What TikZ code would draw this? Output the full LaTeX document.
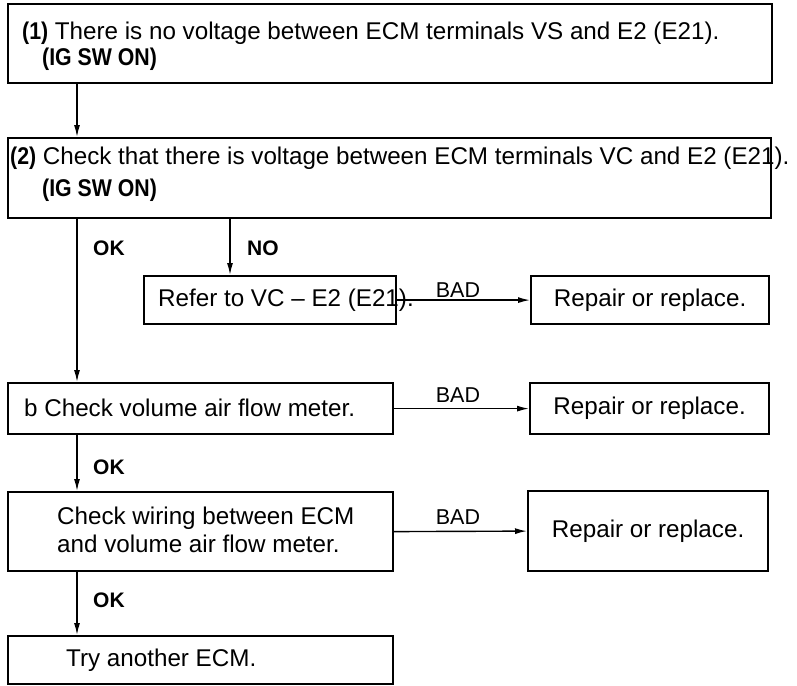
\documentclass[tikz,border=0pt]{standalone}
\usepackage{fontspec}
\setmainfont{Liberation Sans}
\newfontfamily\narrowb[FakeStretch=0.88]{Liberation Sans Bold}
\usetikzlibrary{arrows.meta}
\begin{document}
\begin{tikzpicture}[x=1pt,y=-1pt,
  box/.style={draw, line width=2.2pt, inner sep=0pt, anchor=north west},
  txt/.style={anchor=west, inner sep=0pt, font=\fontsize{24.2}{28}\selectfont},
  lab/.style={anchor=west, inner sep=0pt, font=\fontsize{21}{24}\selectfont\bfseries},
  badlab/.style={inner sep=0pt, font=\fontsize{21.5}{24}\selectfont},
  arr/.style={line width=1.4pt, -{Latex[length=12pt,width=6pt]}},
]
\useasboundingbox (0,0) rectangle (797,685);
% boxes
\node[box, minimum width=764pt, minimum height=79pt] (b1) at (7,3) {};
\node[box, minimum width=763pt, minimum height=80pt] (b2) at (7,137) {};
\node[box, minimum width=252pt, minimum height=48pt] (ref) at (143,275) {};
\node[box, minimum width=238pt, minimum height=48pt, font=\fontsize{24.2}{28}\selectfont] (r1) at (530,275) {Repair or replace.};
\node[box, minimum width=385pt, minimum height=51pt] (bb) at (7,382) {};
\node[box, minimum width=239pt, minimum height=51pt, font=\fontsize{24.2}{28}\selectfont] (r2) at (529,382) {Repair or replace.};
\node[box, minimum width=385pt, minimum height=79pt] (cw) at (7,491) {};
\node[box, minimum width=240pt, minimum height=80pt, font=\fontsize{24.2}{28}\selectfont] (r3) at (527,490) {Repair or replace.};
\node[box, minimum width=385pt, minimum height=48pt] (tr) at (7,635) {};
% texts
\node[txt] (t1a) at (22,33) {{\narrowb (1)} There is no voltage between ECM terminals VS and E2 (E21).};
\node[txt] (t1b) at (42,59) {\narrowb (IG SW ON)};
\node[txt] (t2a) at (10,158) {{\narrowb (2)} Check that there is voltage between ECM terminals VC and E2 (E21).};
\node[txt] (t2b) at (42,190) {\narrowb (IG SW ON)};
\node[txt] (tref) at (158,300) {Refer to VC -- E2 (E21).};
\node[txt] (tbb) at (24,408) {b Check volume air flow meter.};
\node[txt, align=left] (tcw) at (57,530) {Check wiring between ECM\\and volume air flow meter.};
\node[txt] (ttr) at (66,660) {Try another ECM.};
% connectors
\coordinate (cx) at (77,0);
\coordinate (nx) at (230,0);
\draw[arr] (b1.south -| cx) -- (b2.north -| cx);
\draw[arr] (b2.south -| cx) -- (bb.north -| cx);
\draw[arr] (b2.south -| nx) -- (ref.north -| nx);
\draw[arr] (ref.east) -- (r1.west);
\draw[arr] (bb.east) -- (r2.west);
\draw[arr] (bb.south -| cx) -- (cw.north -| cx);
\draw[arr] (cw.east) -- (r3.west);
\draw[arr] (cw.south -| cx) -- (tr.north -| cx);
% labels
\node[lab] (ok1) at (93,248) {OK};
\node[lab] (no1) at (247,248) {NO};
\node[lab] (ok2) at (93,467) {OK};
\node[lab] (ok3) at (93,600) {OK};
\node[badlab] (bad1) at (458,290) {BAD};
\node[badlab] (bad2) at (458,395) {BAD};
\node[badlab] (bad3) at (458,517) {BAD};
\end{tikzpicture}
\end{document}
